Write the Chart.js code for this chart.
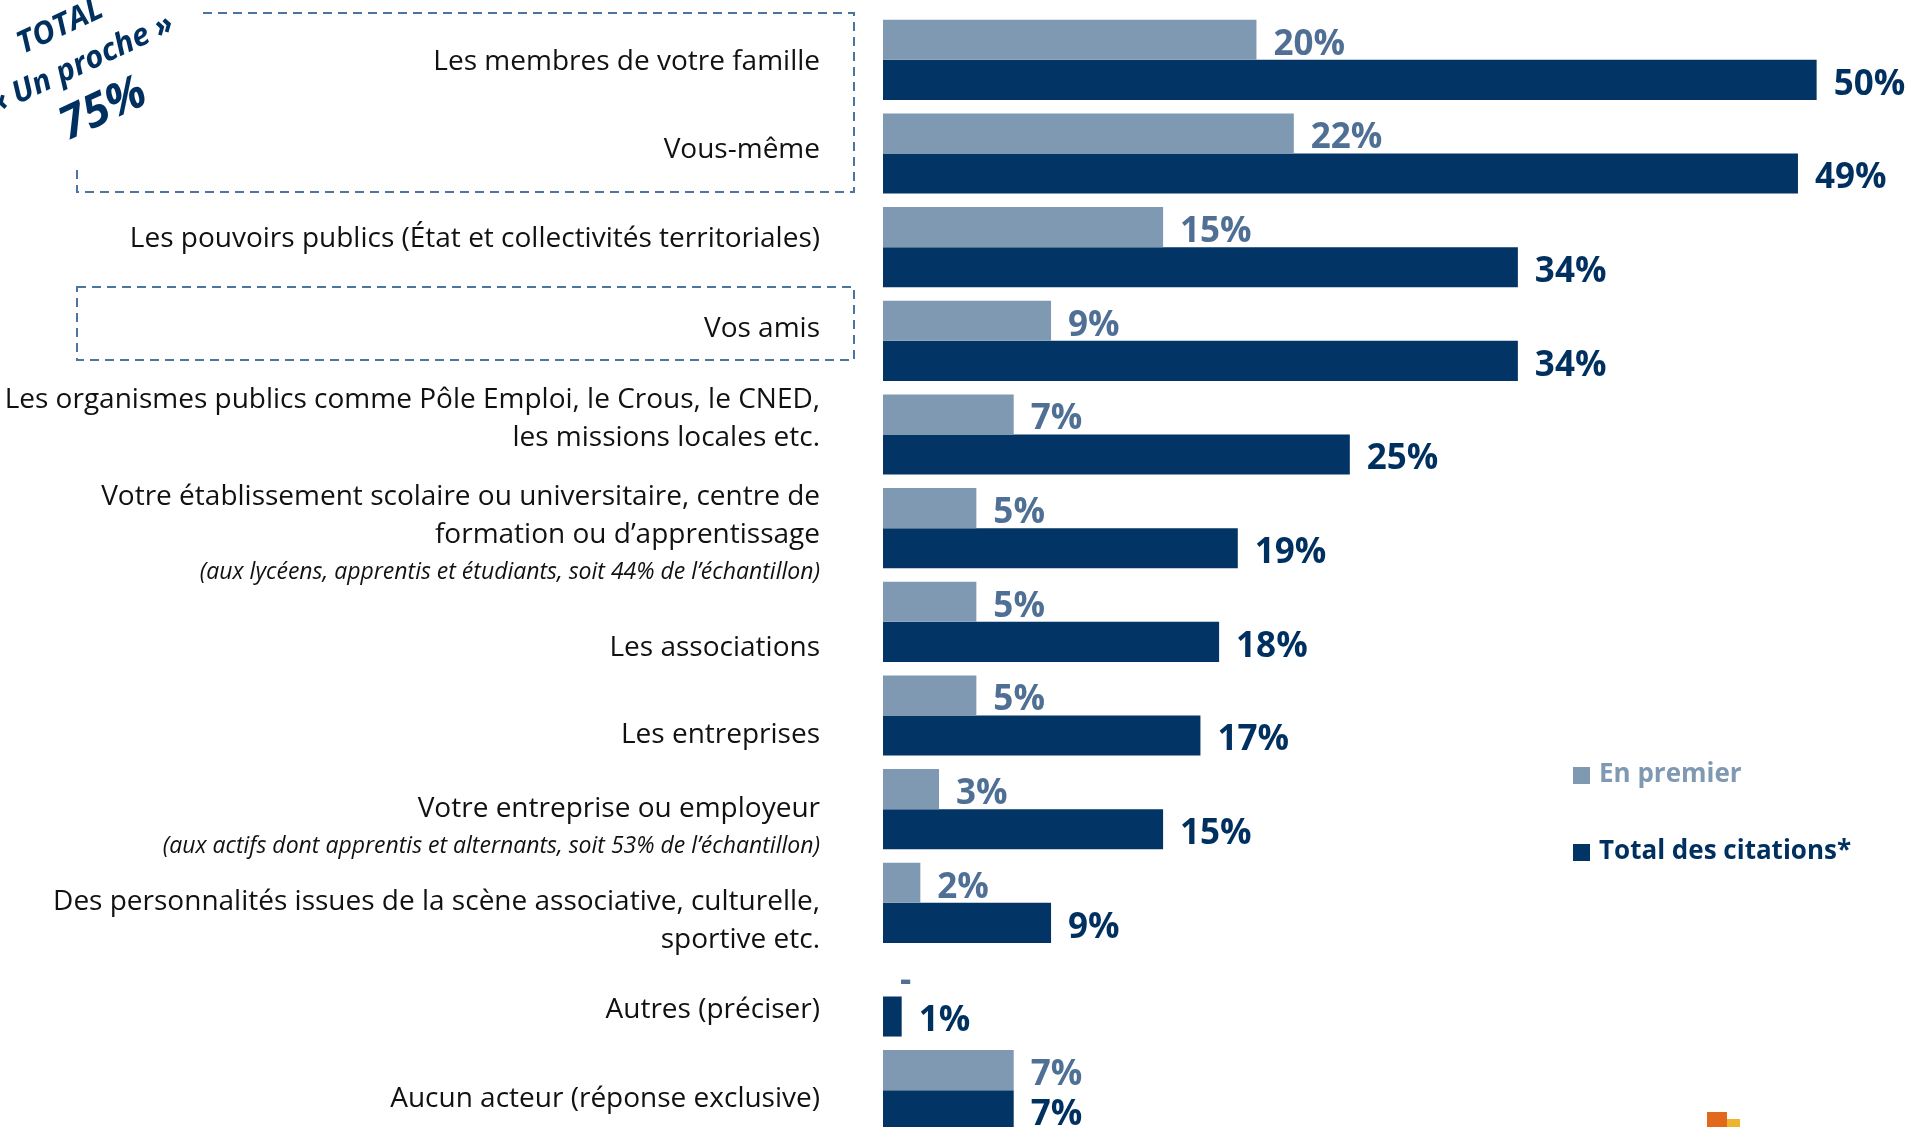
<!DOCTYPE html>
<html>
<head>
<meta charset="utf-8">
<script src="https://cdn.jsdelivr.net/npm/chart.js@4/dist/chart.umd.min.js"></script>
<style>
  html, body { margin: 0; padding: 0; background: #fff; overflow: hidden; }
  #wrap { position: relative; width: 1912px; height: 1140px; }
</style>
</head>
<body>
<div id="wrap"><canvas id="chartBars"></canvas></div>
<script>
var categories = [
  ['Les membres de votre famille'],
  ['Vous-même'],
  ['Les pouvoirs publics (État et collectivités territoriales)'],
  ['Vos amis'],
  ['Les organismes publics comme Pôle Emploi, le Crous, le CNED,', 'les missions locales etc.'],
  ['Votre établissement scolaire ou universitaire, centre de', 'formation ou d’apprentissage'],
  ['Les associations'],
  ['Les entreprises'],
  ['Votre entreprise ou employeur'],
  ['Des personnalités issues de la scène associative, culturelle,', 'sportive etc.'],
  ['Autres (préciser)'],
  ['Aucun acteur (réponse exclusive)']
];
var notes = ['', '', '', '', '',
  '(aux lycéens, apprentis et étudiants, soit 44% de l’échantillon)',
  '', '',
  '(aux actifs dont apprentis et alternants, soit 53% de l’échantillon)',
  '', '', ''];
var seriesNames = ['En premier', 'Total des citations*'];
var firstValues = [20, 22, 15, 9, 7, 5, 5, 5, 3, 2, 0, 7];
var totalValues = [50, 49, 34, 34, 25, 19, 18, 17, 15, 9, 1, 7];

// colours
var lightBar = '#7f99b3', darkBar = '#033466';
var lightText = '#4f6f95', darkText = '#00305f';
var boxColor = '#4a74a1';

// label vertical nudges (px) so the text sits like in the slide
var labelNudge = [2, -3, -8, -12, -34, -31, 26, 20, 0, -1, 14, 9];

function fmt(v) { return v === 0 ? '-' : v + '%'; }

var decorations = {
  id: 'decorations',
  afterDraw: function (chart) {
    var c = chart.ctx;
    var yScale = chart.scales.y;
    c.save();

    // category labels
    c.textAlign = 'right';
    c.textBaseline = 'middle';
    c.fillStyle = '#111';
    categories.forEach(function (lines, i) {
      var y = yScale.getPixelForValue(i) + labelNudge[i];
      c.font = '28px "Open Sans"';
      lines.forEach(function (line, k) {
        c.fillText(line, 820, y + k * 38);
      });
      if (notes[i]) {
        c.font = 'italic 23px "Open Sans"';
        c.fillText(notes[i], 820, y + lines.length * 37.5);
      }
    });

    // value labels
    c.textAlign = 'left';
    c.font = 'bold 35px "Open Sans"';
    chart.data.datasets.forEach(function (ds, d) {
      var meta = chart.getDatasetMeta(d);
      c.fillStyle = d === 0 ? lightText : darkText;
      meta.data.forEach(function (bar, i) {
        c.fillText(fmt(ds.data[i]), bar.x + 17, bar.y + 5);
      });
    });

    // legend
    c.font = 'bold 26px "Open Sans"';
    c.textBaseline = 'middle';
    chart.data.datasets.forEach(function (ds, d) {
      var ly = 775 + d * 77;
      c.fillStyle = ds.backgroundColor;
      c.fillRect(1573, ly - 8, 17, 17);
      c.fillStyle = d === 0 ? lightBar : darkText;
      c.fillText(ds.label, 1599, ly);
    });

    // dashed boxes
    c.strokeStyle = boxColor;
    c.lineWidth = 2;
    c.setLineDash([9, 6]);
    c.beginPath();
    c.moveTo(203, 13);
    c.lineTo(854, 13);
    c.lineTo(854, 192);
    c.lineTo(77, 192);
    c.lineTo(77, 165);
    c.stroke();
    c.strokeRect(77, 287, 777, 73);
    c.setLineDash([]);

    // rotated total
    c.translate(80, 62);
    c.rotate(-25 * Math.PI / 180);
    c.textAlign = 'center';
    c.fillStyle = darkText;
    c.font = 'italic bold 31px "Open Sans"';
    c.fillText('TOTAL', -3, -40);
    c.fillText('« Un proche »', 0, 3);
    c.font = 'italic bold 46px "Open Sans"';
    c.fillText('75%', 1, 53);
    c.restore();

    // logo fragment
    c.save();
    c.fillStyle = '#e2691b';
    c.fillRect(1707, 1112, 20, 15);
    c.fillStyle = '#f0b32f';
    c.fillRect(1727, 1119, 13, 8);
    c.restore();
  }
};

new Chart(document.getElementById('chartBars'), {
  type: 'bar',
  data: {
    labels: categories,
    datasets: [
      { label: seriesNames[0], data: firstValues, backgroundColor: lightBar },
      { label: seriesNames[1], data: totalValues, backgroundColor: darkBar }
    ]
  },
  options: {
    indexAxis: 'y',
    responsive: true,
    maintainAspectRatio: false,
    animation: false,
    categoryPercentage: 0.855,
    barPercentage: 1,
    layout: { padding: { left: 883, right: 2, top: 13, bottom: 3 } },
    scales: {
      x: { display: false, min: 0, max: 55 },
      y: { display: false }
    },
    plugins: {
      legend: { display: false },
      tooltip: { enabled: false }
    }
  },
  plugins: [decorations]
});
</script>
</body>
</html>
